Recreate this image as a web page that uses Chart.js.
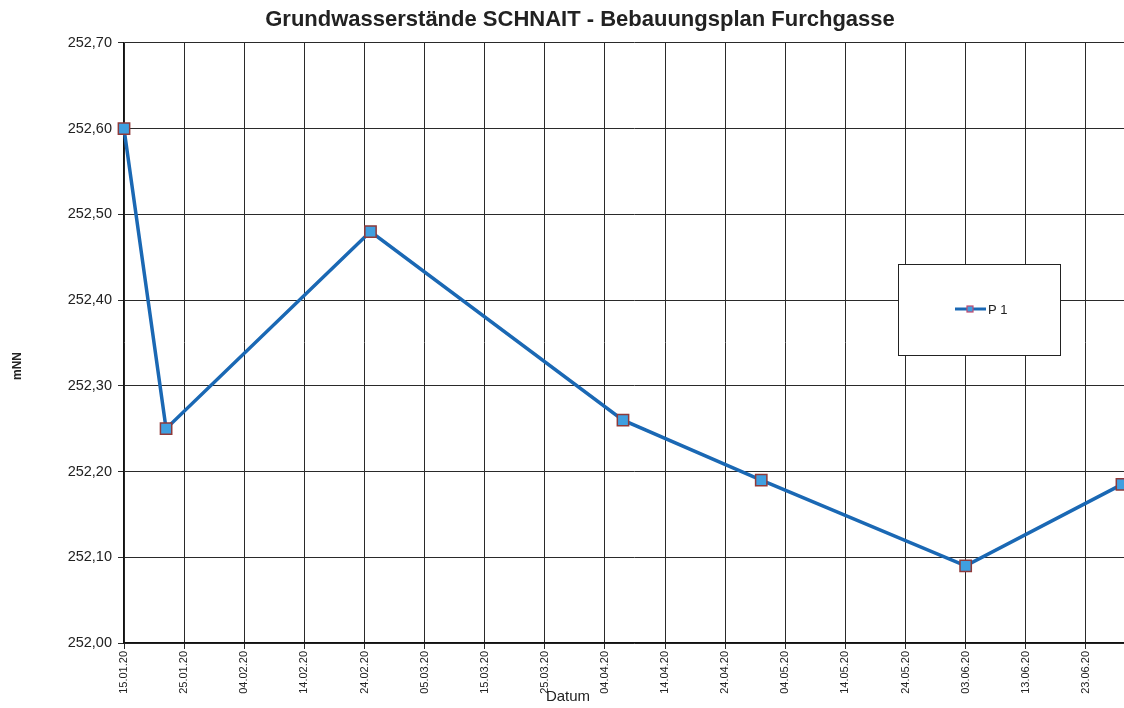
<!DOCTYPE html>
<html>
<head>
<meta charset="utf-8">
<script src="https://cdn.jsdelivr.net/npm/chart.js@4.4.1/dist/chart.umd.min.js"></script>
<style>
    html, body { margin: 0; padding: 0; background: #fff; overflow: hidden; }
    #wrap { width: 1160px; height: 708px; }
</style>
</head>
<body>
<div id="wrap"><canvas id="gwChart" width="1160" height="708"></canvas></div>
<script>
"use strict";

// Messdaten P 1
const dates = ['15.01.20', '22.01.20', '25.02.20', '07.04.20', '30.04.20', '03.06.20', '29.06.20'];
const levels = [252.60, 252.25, 252.48, 252.26, 252.19, 252.09, 252.185];
const seriesLabel = 'P 1';

// Achsen
const startDate = '15.01.20';
const dayStep = 10;
const dayMax = 169.8;
const yMin = 252.0;
const yMax = 252.7;
const yStep = 0.1;

const FONT = "'Liberation Sans', Arial, sans-serif";
const LINE_COLOR = '#1a68b4';
const MARKER_FILL = '#3f9fe0';
const MARKER_EDGE = '#8f3a3a';

function toUtc(s) {
    var p = s.split('.');
    return Date.UTC(2000 + parseInt(p[2], 10), parseInt(p[1], 10) - 1, parseInt(p[0], 10));
}
var base = toUtc(startDate);
function dayOf(s) {
    return Math.round((toUtc(s) - base) / 86400000);
}
function fmtDay(v) {
    if (v % dayStep !== 0) {
        return '';
    }
    var d = new Date(base + v * 86400000);
    var dd = String(d.getUTCDate()).padStart(2, '0');
    var mm = String(d.getUTCMonth() + 1).padStart(2, '0');
    var yy = String(d.getUTCFullYear()).slice(2);
    return dd + '.' + mm + '.' + yy;
}

var points = dates.map(function (d, i) {
    return { x: dayOf(d), y: levels[i] };
});

// Legende im Rahmen + Achsentitel
var extras = {
    id: 'extras',
    afterDraw: function (chart) {
        var ctx = chart.ctx;
        ctx.save();
        // Legend box
        ctx.fillStyle = '#fff';
        ctx.fillRect(898, 264, 162, 91);
        ctx.strokeStyle = '#222';
        ctx.lineWidth = 1;
        ctx.strokeRect(898.5, 264.5, 162, 91);
        ctx.strokeStyle = LINE_COLOR;
        ctx.lineWidth = 3;
        ctx.beginPath();
        ctx.moveTo(955, 309);
        ctx.lineTo(986, 309);
        ctx.stroke();
        ctx.fillStyle = MARKER_FILL;
        ctx.fillRect(967, 306, 6, 6);
        ctx.strokeStyle = '#c04a70';
        ctx.lineWidth = 1.2;
        ctx.strokeRect(967, 306, 6, 6);
        ctx.fillStyle = '#222';
        ctx.font = '13px ' + FONT;
        ctx.textBaseline = 'middle';
        ctx.textAlign = 'left';
        ctx.fillText(chart.data.datasets[0].label, 988, 310);
        // x axis title
        ctx.font = '15px ' + FONT;
        ctx.textAlign = 'center';
        ctx.fillText('Datum', 568, 697);
        // y axis title
        ctx.translate(18, 366);
        ctx.rotate(-Math.PI / 2);
        ctx.font = 'bold 12px ' + FONT;
        ctx.fillText('mNN', 0, 0);
        ctx.restore();
    }
};

var config = {
    type: 'line',
    data: {
        datasets: [{
            label: seriesLabel,
            data: points,
            borderColor: LINE_COLOR,
            borderWidth: 3.5,
            backgroundColor: MARKER_FILL,
            pointStyle: 'rect',
            pointRadius: 8,
            pointBackgroundColor: MARKER_FILL,
            pointBorderColor: MARKER_EDGE,
            pointBorderWidth: 1.5,
            tension: 0,
            clip: false
        }]
    },
    options: {
        responsive: false,
        animation: false,
        layout: {
            padding: { top: 7, left: 0, right: 0, bottom: 0 }
        },
        scales: {
            x: {
                type: 'linear',
                min: 0,
                max: dayMax,
                afterFit: function (scale) { scale.height = 65; },
                grid: {
                    color: '#2a2a2a',
                    lineWidth: 1,
                    tickLength: 6,
                    tickColor: '#2a2a2a'
                },
                border: { color: '#111', width: 1.2 },
                ticks: {
                    stepSize: dayStep,
                    autoSkip: false,
                    minRotation: 90,
                    maxRotation: 90,
                    padding: 2,
                    color: '#222',
                    font: { family: FONT, size: 11 },
                    callback: function (value) { return fmtDay(value); }
                }
            },
            y: {
                min: yMin,
                max: yMax,
                afterFit: function (scale) { scale.width = 124; },
                grid: {
                    color: '#2a2a2a',
                    lineWidth: 1,
                    tickLength: 6,
                    tickColor: '#2a2a2a'
                },
                border: { color: '#111', width: 1.2 },
                ticks: {
                    stepSize: yStep,
                    padding: 6,
                    color: '#222',
                    font: { family: FONT, size: 14.5 },
                    callback: function (value) { return value.toFixed(2).replace('.', ','); }
                }
            }
        },
        plugins: {
            legend: { display: false },
            tooltip: { enabled: false },
            title: {
                display: true,
                text: 'Grundwasserstände SCHNAIT - Bebauungsplan Furchgasse',
                color: '#222',
                padding: { top: 0, bottom: 10 },
                font: { family: FONT, size: 22, weight: 'bold', lineHeight: 1.18 }
            }
        }
    },
    plugins: [extras]
};

var ctx = document.getElementById('gwChart').getContext('2d');
new Chart(ctx, config);
</script>
</body>
</html>
